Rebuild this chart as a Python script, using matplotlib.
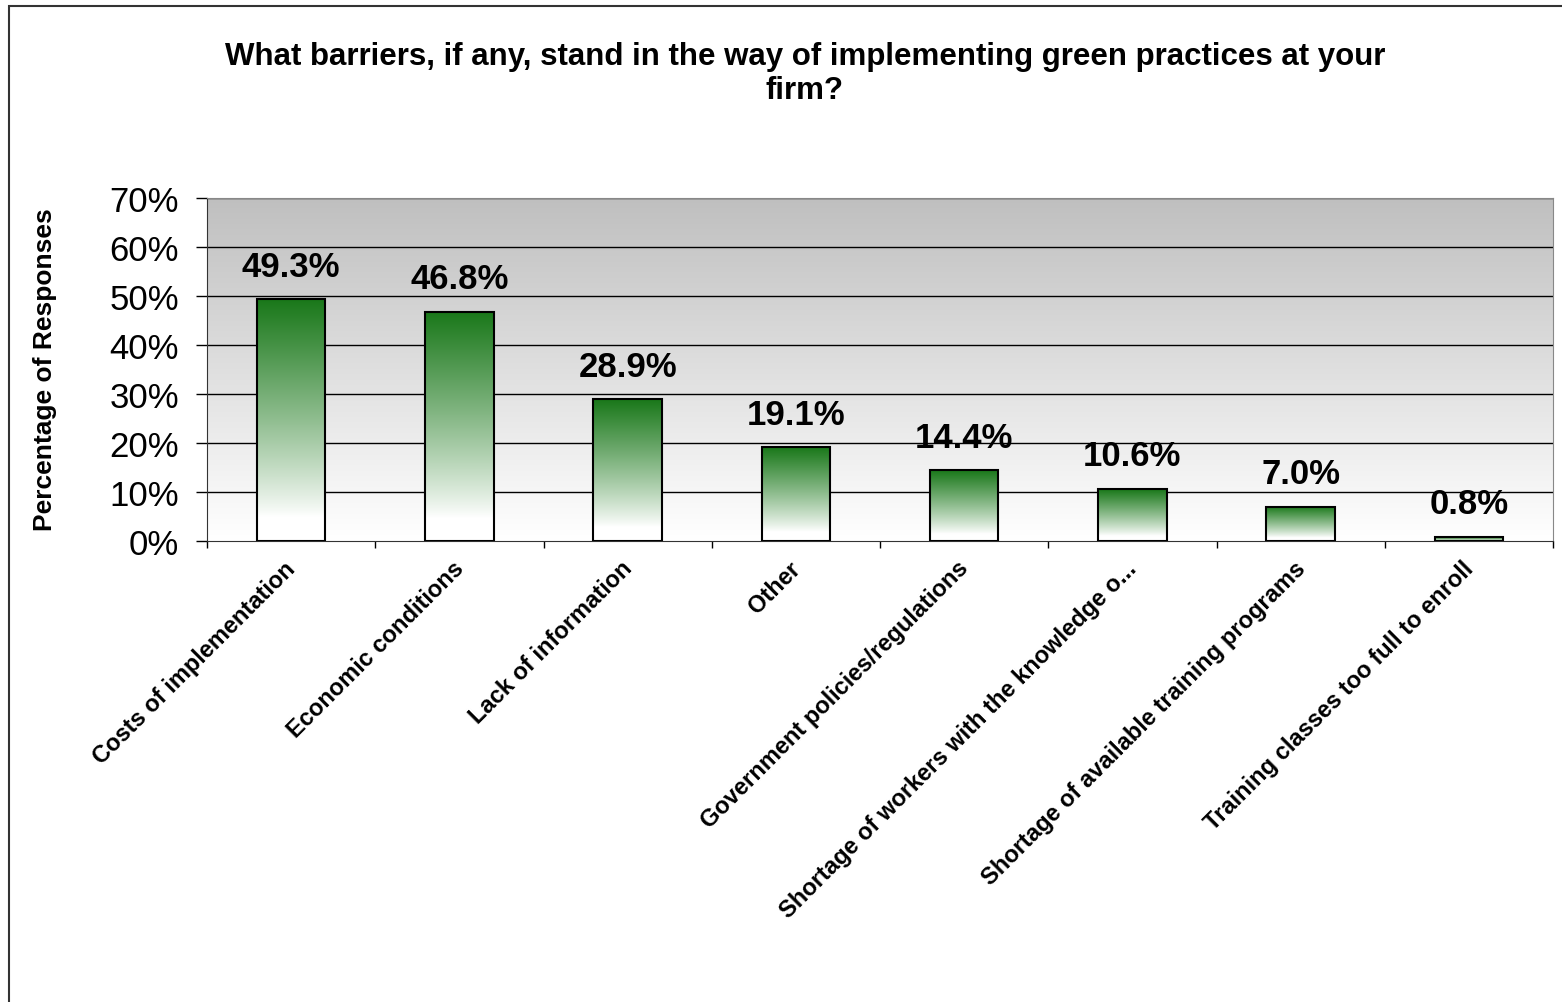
import numpy as np
import matplotlib
matplotlib.use("Agg")
from matplotlib import pyplot as plt
from matplotlib.patches import Rectangle
from matplotlib.transforms import ScaledTranslation

plt.rcParams['font.family'] = ['Liberation Sans', 'DejaVu Sans']

categories = ["Costs of implementation", "Economic conditions", "Lack of information",
              "Other", "Government policies/regulations",
              "Shortage of workers with the knowledge o...",
              "Shortage of available training programs",
              "Training classes too full to enroll"]
values = [49.3, 46.8, 28.9, 19.1, 14.4, 10.6, 7.0, 0.8]
yticks = [0, 10, 20, 30, 40, 50, 60, 70]
title = "What barriers, if any, stand in the way of implementing green practices at your\nfirm?"

fig = plt.figure(figsize=(15.62, 10.03), dpi=100)
ax = fig.add_axes([207/1562, 1 - 542/1003, (1553 - 207)/1562, (542 - 199)/1003])

# outer chart border
fig.patches.append(Rectangle((9/1562, -0.05), 1.2, 1 - 7/1003 + 0.05, transform=fig.transFigure,
                             fill=False, edgecolor="#333333", linewidth=1.5))

n = len(categories)

# background gradient: gray at top, white at bottom
bg = np.linspace(0, 1, 256)[:, None]
gray = np.array([0.75, 0.75, 0.75])
bg_img = (1 - bg)[..., None] * np.ones(3) + bg[..., None] * gray
ax.imshow(bg_img, extent=[0, n, 0, 70], origin="lower", aspect="auto", zorder=0)

for y in yticks[1:]:
    ax.axhline(y, color="black", linewidth=1, zorder=1)

# bars with green-to-white gradient
green = np.array([0.10, 0.47, 0.10])
t = np.linspace(0, 1, 256)
w = np.clip((t - 0.1) / 0.9, 0, 1) ** 0.9
bar_img = (1 - w)[:, None, None] * np.ones(3) + w[:, None, None] * green
bar_w = 0.406
bars = ax.bar(np.arange(n) + 0.5, values, width=bar_w, color="none",
              edgecolor="black", linewidth=1.5, zorder=3)
for b, v in zip(bars, values):
    x0 = b.get_x()
    ax.imshow(bar_img, extent=[x0, x0 + bar_w, 0, v], origin="lower",
              aspect="auto", zorder=2)
    ax.annotate(f"{v:.1f}%", (x0 + bar_w / 2, v), xytext=(0, 17),
                textcoords="offset points", ha="center", va="baseline",
                fontsize=25, fontweight="bold")

ax.set_xlim(0, n)
ax.set_ylim(0, 70)
ax.set_yticks(yticks)
ax.set_yticklabels([f"{y}%" for y in yticks], fontsize=25)
ax.tick_params(axis="y", length=8, pad=12, width=1)

ax.set_xticks(np.arange(n + 1))
ax.set_xticklabels([])
ax.tick_params(axis="x", which="major", length=5, width=1)
ax.set_xticks(np.arange(n) + 0.5, minor=True)
ax.set_xticklabels(categories, minor=True, rotation=45, ha="right",
                   rotation_mode="anchor", fontsize=17, fontweight="bold")
ax.tick_params(axis="x", which="minor", length=0, pad=11)
shift = ScaledTranslation(-7/100, 0, fig.dpi_scale_trans)
for lbl in ax.get_xticklabels(minor=True):
    lbl.set_transform(lbl.get_transform() + shift)

for s in ["top", "right"]:
    ax.spines[s].set_color("#888888")
ax.spines["left"].set_color("#333333")
ax.spines["bottom"].set_color("#333333")

fig.text(45/1562, 1 - 370/1003, "Percentage of Responses", rotation=90,
         ha="center", va="center", fontsize=19, fontweight="bold")
fig.text(805/1562, 1 - 42/1003, title, ha="center", va="top",
         fontsize=22.5, fontweight="bold", linespacing=1.17)

fig.savefig("out.png", dpi=100)
